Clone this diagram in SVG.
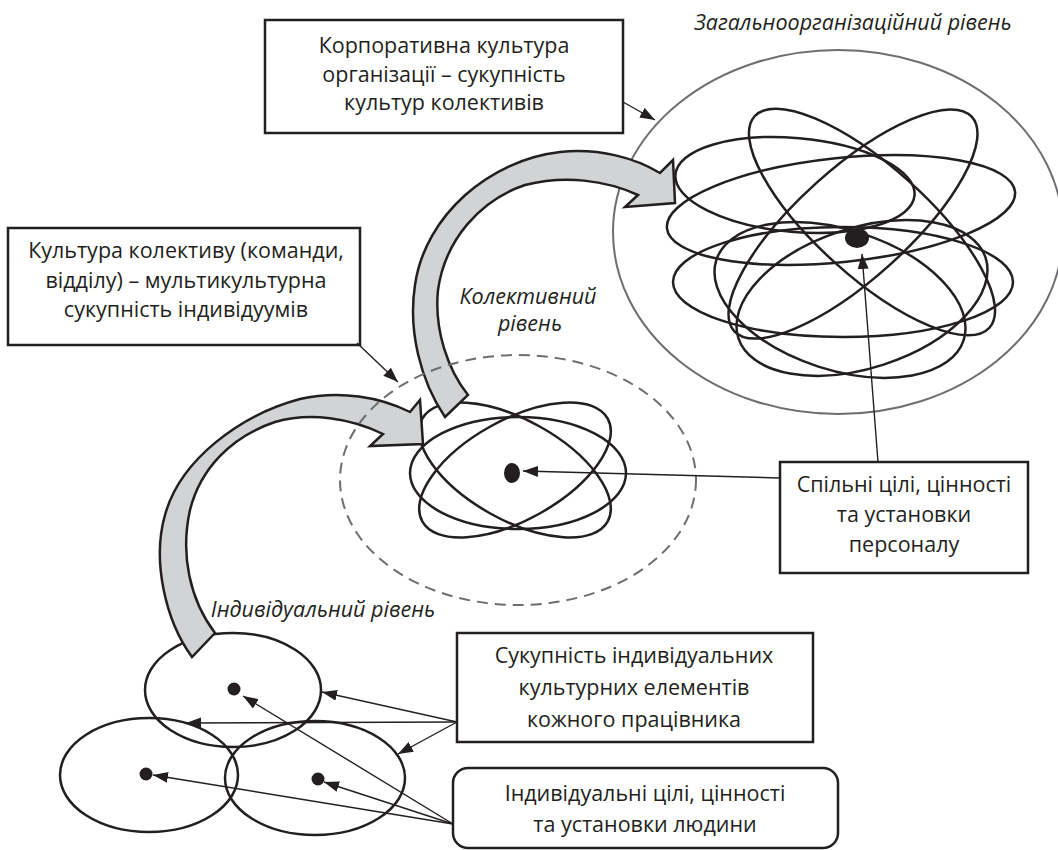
<svg xmlns="http://www.w3.org/2000/svg" width="1058" height="850" viewBox="0 0 1058 850">
<style>
.t{font-family:"Open Sans","Noto Sans","DejaVu Sans",sans-serif;font-size:21.5px;fill:#231f20;text-anchor:middle}
.i{font-style:italic}
.box{fill:#fff;stroke:#231f20;stroke-width:2.5}
.orb{fill:none;stroke:#231f20;stroke-width:2.5}
.big{fill:#d1d3d4;stroke:#231f20;stroke-width:2.5;stroke-linejoin:miter}
.ln{fill:none;stroke:#231f20;stroke-width:1.4;marker-end:url(#ah)}
.dot{fill:#231f20}
</style>
<defs>
<marker id="ah" markerUnits="userSpaceOnUse" markerWidth="15" markerHeight="11" refX="15" refY="5.5" orient="auto">
<path d="M0,0 L15,5.5 L0,11 Z" fill="#231f20"/>
</marker>
</defs>
<rect width="1058" height="850" fill="#fff"/>

<g id="org-level">
<ellipse cx="838" cy="232" rx="225" ry="182" fill="none" stroke="#6d6e71" stroke-width="2"/>
<g class="orb">
<ellipse cx="872" cy="222" rx="158" ry="55" transform="rotate(42 872 222)"/>
<ellipse cx="853" cy="224" rx="160" ry="55" transform="rotate(-42 853 224)"/>
<ellipse cx="795" cy="185" rx="120" ry="47" transform="rotate(5 795 185)"/>
<ellipse cx="841" cy="210" rx="175" ry="52" transform="rotate(-6 841 210)"/>
<ellipse cx="843" cy="282" rx="170" ry="55"/>
<ellipse cx="840" cy="300" rx="130" ry="70" transform="rotate(18 840 300)"/>
<ellipse cx="862" cy="298" rx="130" ry="70" transform="rotate(-18 862 298)"/>
</g>
<ellipse class="dot" cx="857" cy="238" rx="12" ry="10"/>
</g>

<g id="collective-level">
<g class="orb">
<ellipse cx="518" cy="473" rx="108" ry="56"/>
<ellipse cx="515" cy="470" rx="106" ry="50" transform="rotate(29 515 470)"/>
<ellipse cx="515" cy="470" rx="106" ry="50" transform="rotate(-29 515 470)"/>
</g>
<ellipse class="dot" cx="512" cy="473" rx="8" ry="10"/>
</g>

<g id="individual-level">
<g class="orb">
<ellipse cx="233" cy="690" rx="88" ry="57"/>
<ellipse cx="149" cy="775" rx="89" ry="57"/>
<ellipse cx="315" cy="778" rx="90" ry="57"/>
</g>
<circle class="dot" cx="234" cy="689" r="6.5"/>
<circle class="dot" cx="146" cy="774" r="6.5"/>
<circle class="dot" cx="318" cy="779" r="6.5"/>
</g>

<g id="transition-arrows">
<path id="arrow-ind-col" class="big" d="M192,657 C165,620 152,560 165,515 C180,460 240,415 300,399 C340,390 380,397 410,412 L420,400 L423,444 L370,446 L383,434 C350,418 310,412 275,422 C230,437 200,470 190,510 C180,555 190,600 215,633 Z"/>
<path id="arrow-col-org" class="big" d="M445,417 C420,380 408,330 415,285 C425,215 490,160 560,152 C600,148 635,158 660,173 L673,160 L675,203 L625,207 L638,195 C605,180 565,175 525,185 C480,200 445,240 438,290 C434,330 448,370 468,395 Z"/>
</g>

<g id="collective-boundary">
<ellipse cx="518" cy="480" rx="178" ry="125" fill="none" stroke="#6d6e71" stroke-width="2" stroke-dasharray="11 7"/>
</g>

<g id="label-org"><text class="t i" x="853" y="30">Загальноорганізаційний рівень</text></g>
<g id="label-col"><text class="t i" x="528" y="304">Колективний</text><text class="t i" x="530" y="331">рівень</text></g>
<g id="label-ind"><text class="t i" x="323" y="617">Індивідуальний рівень</text></g>

<g id="box-corporate">
<rect class="box" x="265" y="20" width="358" height="113"/>
<text class="t" x="444" y="53">Корпоративна культура</text>
<text class="t" x="444" y="82">організації – сукупність</text>
<text class="t" x="444" y="110">культур колективів</text>
</g>

<g id="box-collective">
<rect class="box" x="8" y="228" width="352" height="117"/>
<text class="t" x="186" y="258">Культура колективу (команди,</text>
<text class="t" x="186" y="288">відділу) – мультикультурна</text>
<text class="t" x="186" y="317">сукупність індивідуумів</text>
</g>

<g id="box-shared">
<rect class="box" x="780" y="462" width="248" height="111"/>
<text class="t" x="904" y="492">Спільні цілі, цінності</text>
<text class="t" x="904" y="522">та установки</text>
<text class="t" x="904" y="552">персоналу</text>
</g>

<g id="box-elements">
<rect class="box" x="457" y="633" width="356" height="109"/>
<text class="t" x="634" y="663">Сукупність індивідуальних</text>
<text class="t" x="634" y="695">культурних елементів</text>
<text class="t" x="634" y="727">кожного працівника</text>
</g>

<g id="box-individual">
<rect class="box" x="453" y="768" width="385" height="80" rx="15"/>
<text class="t" x="645" y="801">Індивідуальні цілі, цінності</text>
<text class="t" x="645" y="832">та установки людини</text>
</g>

<g id="connectors">
<line class="ln" x1="623" y1="102" x2="655" y2="120"/>
<line class="ln" x1="357" y1="343" x2="398" y2="382"/>
<line class="ln" x1="780" y1="478" x2="523" y2="471"/>
<line class="ln" x1="878" y1="462" x2="862" y2="254"/>
<line class="ln" x1="457" y1="722" x2="322" y2="692"/>
<line class="ln" x1="457" y1="722" x2="186" y2="723"/>
<line class="ln" x1="457" y1="722" x2="398" y2="754"/>
<line class="ln" x1="453" y1="824" x2="243" y2="696"/>
<line class="ln" x1="453" y1="824" x2="153" y2="775"/>
<line class="ln" x1="453" y1="824" x2="324" y2="782"/>
</g>
</svg>
